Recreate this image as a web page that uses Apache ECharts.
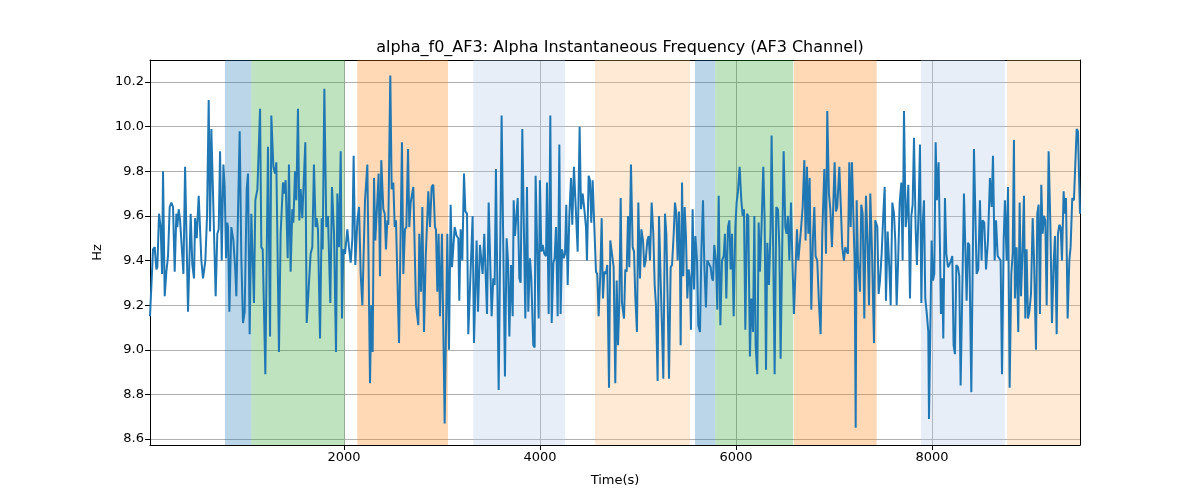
<!DOCTYPE html>
<html>
<head>
<meta charset="utf-8">
<script src="https://cdn.jsdelivr.net/npm/echarts@6/dist/echarts.min.js"></script>
<style>html,body{margin:0;padding:0;background:#fff}#c{width:1200px;height:500px}</style>
</head>
<body>
<div id="c"></div>
<script>
const times = [20,51,68,85,95,112,129,143,153,170,187,204,221,238,255,272,289,299,313,327,361,378,408,435,452,469,480,497,507,517,531,544,561,585,602,619,633,646,663,690,707,721,735,752,769,782,796,809,816,830,850,871,891,901,935,952,969,986,1007,1020,1037,1054,1081,1095,1116,1143,1156,1170,1197,
1224,1245,1258,1279,1296,1309,1336,1353,1377,1387,1404,1425,1438,1455,1472,1483,1500,1513,1530,1544,1557,1574,1605,1619,1659,1676,1693,1710,1721,1734,1755,1772,1782,1799,1819,1836,1860,1877,1898,1918,1932,1949,1966,1979,1993,2010,2034,2050,2068,2085,2098,2115,2136,2153,2170,2187,2214,2238,2265,2278,2292,2306,2319,2340,2353,2367,2380,
2401,2415,2428,2442,2452,2472,2486,2503,2517,2530,2561,2591,2605,2622,2636,2653,2666,2680,2707,2734,2758,2768,2785,2799,2816,2833,2860,2877,2894,2911,2928,2938,2952,2965,2979,2999,3027,3054,3071,3088,3102,3129,3149,3166,3176,3190,3207,3224,3238,3255,3268,3312,3326,3353,3367,3387,3414,3431,3459,3476,3506,3523,3537,3550,
3578,3608,3642,3659,3673,3687,3704,3721,3731,3744,3772,3789,3802,3819,3850,3867,3880,3897,3911,3931,3945,3955,3986,3999,4013,4027,4044,4061,4071,4088,4105,4119,4136,4149,4163,4180,4197,4210,4224,4241,4255,4268,4282,4299,4316,4329,4346,4360,4384,4404,4418,4435,4452,4469,4479,4496,4510,4523,4537,4554,4571,4584,4598,4615,4629,4642,4656,4673,4686,4704,4717,4734,
4751,4768,4782,4796,4809,4823,4836,4857,4870,4884,4898,4911,4928,4945,4959,4972,4989,5003,5020,5034,5051,5064,5078,5095,5108,5122,5139,5156,5170,5183,5200,5214,5231,5244,5258,5275,5289,5302,5316,5333,5347,5364,5377,5391,5404,5418,5428,5435,5449,5462,5476,5489,5503,5517,5530,5540,5557,5571,5585,5602,5615,5632,5646,5663,5676,5693,5707,5721,5741,5755,5765,5778,5795,5809,5823,5840,5857,5874,5887,5901,5918,
5932,5945,5959,5976,5993,6006,6020,6037,6054,6068,6081,6095,6112,6125,6142,6156,6173,6187,6200,6217,6231,6244,6261,6278,6292,6306,6319,6336,6353,6363,6380,6394,6411,6428,6442,6455,6472,6486,6503,6516,6530,6544,6561,6574,6591,6622,6636,6646,6663,6680,6697,6710,6724,6738,6751,6768,6785,6799,6812,6829,6846,6863,6880,6901,6918,6931,6948,6962,6979,6993,7006,7020,7033,7054,7067,7084,7101,
7115,7129,7142,7156,7170,7183,7197,7210,7221,7231,7244,7265,7278,7292,7309,7326,7343,7357,7370,7387,7408,7421,7442,7455,7469,7486,7503,7517,7530,7547,7564,7578,7595,7612,7625,7639,7653,7670,7687,7700,7714,7731,7744,7758,7775,7789,7802,7816,7833,7846,7863,7877,7891,7904,7918,7931,7945,7962,7969,7982,7996,8010,8023,8037,8050,8067,8081,8091,8105,8115,8132,8146,8163,8176,8193,8207,8220,8234,8248,8265,8278,8292,
8326,8353,8367,8380,8401,8428,8455,8472,8489,8506,8516,8533,8551,8571,8591,8608,8622,8639,8653,8670,8687,8700,8714,8731,8744,8761,8775,8792,8809,8823,8836,8846,8863,8880,8894,8908,8925,8938,8952,8965,8979,8993,9010,9027,9040,9061,9074,9088,9101,9115,9129,9142,9156,9170,9190,9207,9224,9241,9255,9272,9285,9299,9312,9326,9343,9353,9367,9384,9401,9414,9431,9448,9462,9476,9489,9510];

const hz = [9.15,9.45,9.46,9.36,9.37,9.61,9.55,9.34,9.80,9.24,9.35,9.42,9.64,9.66,9.64,9.35,9.61,9.55,9.63,9.58,9.34,9.82,9.17,9.61,9.38,9.32,9.59,9.50,9.60,9.69,9.69,9.40,9.32,9.40,9.60,10.12,9.53,9.99,9.70,9.24,9.52,9.54,9.89,9.40,9.83,9.73,9.41,9.57,9.55,9.17,9.55,9.49,9.35,9.24,9.98,9.41,9.12,9.17,9.72,9.79,9.07,9.61,9.21,9.67,9.72,10.08,9.46,9.45,8.89,
9.91,9.06,10.05,9.82,9.79,9.84,8.99,9.52,9.75,9.70,9.76,9.41,9.83,9.35,9.63,9.57,9.80,9.67,10.08,9.58,9.72,9.59,9.93,9.12,9.43,9.46,9.83,9.55,9.59,9.54,9.05,9.59,9.45,10.17,9.55,9.60,9.21,9.73,9.52,8.99,9.70,9.46,9.89,9.14,9.45,9.43,9.54,9.46,9.39,9.50,9.87,9.38,9.58,9.64,9.34,9.20,9.67,9.83,8.85,9.20,8.99,9.77,9.49,9.67,9.79,9.33,9.85,
9.63,9.61,9.45,9.58,9.56,10.23,9.72,9.75,9.55,9.58,9.03,9.93,9.34,9.54,9.55,9.90,9.55,9.66,9.73,9.20,9.11,9.52,9.26,9.64,9.08,9.41,9.71,9.55,9.73,9.74,9.55,9.54,9.26,9.52,9.15,9.52,8.67,9.52,9.00,9.65,9.37,9.55,9.51,9.50,9.22,9.54,9.40,9.79,9.62,9.61,9.07,9.60,9.03,9.49,9.17,9.47,9.34,9.52,9.16,9.66,9.15,9.32,9.29,9.81,
8.82,10.05,8.88,9.50,9.40,9.06,9.38,9.15,9.67,9.51,9.68,9.32,9.30,9.99,9.14,9.73,9.17,9.41,9.32,9.02,9.01,9.78,9.14,9.76,9.44,9.47,9.43,9.42,9.75,9.16,10.05,9.12,9.39,9.41,9.55,9.15,9.92,9.16,9.45,9.41,9.43,9.65,9.29,9.60,9.77,9.56,9.82,9.68,9.44,10.00,9.63,9.70,9.63,9.55,9.40,9.78,9.76,9.57,9.76,9.55,9.35,9.34,9.15,9.34,9.59,9.23,9.35,9.34,9.38,8.83,9.49,9.49,
9.37,8.85,9.31,9.02,9.21,9.68,9.21,9.14,9.36,9.35,9.60,9.37,9.83,9.46,9.44,9.24,9.08,9.66,9.32,9.54,9.49,9.37,9.40,9.49,9.51,9.40,9.66,9.52,9.29,9.20,8.86,9.60,9.31,9.11,8.87,9.61,9.52,9.23,8.87,9.37,9.38,9.52,9.66,9.61,9.40,9.62,9.40,9.02,9.75,9.33,9.64,9.51,9.23,9.36,9.31,9.09,9.63,9.27,9.51,9.40,9.11,9.08,9.43,9.67,9.39,9.19,9.40,9.40,9.37,9.32,9.31,9.47,9.40,9.18,9.69,9.11,9.40,9.42,9.52,9.23,9.55,
9.58,9.36,9.52,9.15,9.55,9.66,9.71,9.82,9.67,9.60,9.63,9.09,9.61,9.60,8.97,9.23,9.08,9.60,9.02,8.89,9.57,9.35,9.56,9.82,9.58,8.91,9.48,9.29,9.55,9.96,9.42,8.89,9.64,9.63,9.46,8.96,9.48,9.89,9.55,9.52,9.60,9.40,9.66,9.42,9.16,9.54,9.40,9.40,9.54,9.64,9.85,9.49,9.82,9.52,9.77,9.18,9.50,9.64,9.42,9.40,9.21,9.07,9.52,9.81,9.43,10.07,9.70,9.63,9.46,9.46,9.84,9.62,9.64,9.82,9.67,9.46,9.40,
9.46,9.44,9.43,9.84,9.55,9.84,9.61,9.40,8.65,9.67,9.40,9.26,9.65,9.61,9.14,9.69,9.47,9.20,9.70,9.45,9.03,9.58,9.55,9.25,9.31,9.43,9.61,9.73,9.22,9.53,9.37,9.20,9.66,9.61,9.49,9.20,9.38,9.66,9.75,9.40,10.07,9.55,9.61,9.74,9.23,9.60,9.65,9.95,9.54,9.38,9.63,9.92,9.21,9.56,9.67,9.23,9.17,9.08,8.69,9.07,9.49,9.31,9.34,9.93,9.67,9.84,9.46,9.16,9.32,9.05,9.68,9.43,9.37,9.38,9.40,9.42,9.02,8.98,9.38,9.37,9.33,8.84,
9.70,9.22,9.48,9.47,8.81,9.90,9.34,9.36,9.67,9.40,9.58,9.57,9.36,9.49,9.77,9.64,9.87,9.40,9.58,9.42,9.42,9.40,8.89,9.49,9.67,9.40,9.73,8.83,9.34,9.43,9.94,9.23,9.46,9.08,9.66,9.24,9.46,9.69,9.14,9.45,9.14,9.17,9.25,9.59,9.42,9.00,9.61,9.65,9.16,9.74,9.52,9.60,9.58,9.20,9.89,9.57,9.12,9.39,9.51,9.07,9.52,9.56,9.55,9.40,9.71,9.61,9.68,9.14,9.40,9.46,9.68,9.67,9.67,9.99,9.98,9.61];

const bandStart = [785, 1054, 2135, 3319, 4561, 5581, 5788, 6591, 7887, 8765];
const bandEnd   = [1054, 2007, 3061, 4255, 5530, 5788, 6584, 7435, 8744, 9510];
const bandKind  = ['b','g','o','lb','lo','b','g','o','lb','lo'];
const xTicks = [2000, 4000, 6000, 8000];
const yTicks = [8.6, 8.8, 9.0, 9.2, 9.4, 9.6, 9.8, 10.0, 10.2];

const kindColor = {
  b: 'rgba(31,119,180,0.3)',
  g: 'rgba(44,160,44,0.3)',
  o: 'rgba(255,127,14,0.3)',
  lb: 'rgba(174,199,232,0.3)',
  lo: 'rgba(255,187,120,0.3)'
};

const xMin = 20, xMax = 9510, yMin = 8.573, yMax = 10.299;
const font = 'DejaVu Sans';

const chart = echarts.init(document.getElementById('c'), null, {renderer: 'canvas'});
const lineData = times.map((t, i) => [t, hz[i]]);
const areas = bandStart.map((s, i) => [
  {xAxis: s, itemStyle: {color: kindColor[bandKind[i]]}},
  {xAxis: bandEnd[i]}
]);

chart.setOption({
  animation: false,
  backgroundColor: '#fff',
  title: {
    text: 'alpha_f0_AF3: Alpha Instantaneous Frequency (AF3 Channel)',
    left: 615, top: 35, textAlign: 'center',
    textStyle: {fontFamily: font, fontSize: 16, fontWeight: 'normal', color: '#000'}
  },
  grid: {left: 150, right: 120, top: 60, bottom: 55, containLabel: false},
  xAxis: [{
    type: 'value', min: xMin, max: xMax,
    name: 'Time(s)', nameLocation: 'middle', nameGap: 29,
    nameTextStyle: {fontFamily: font, fontSize: 13, color: '#000'},
    axisLine: {show: true, onZero: false, lineStyle: {color: '#000', width: 1}},
    axisTick: {show: true, length: 5, inside: false, customValues: xTicks, lineStyle: {color: '#000'}},
    axisLabel: {customValues: xTicks, fontFamily: font, fontSize: 13, color: '#000', margin: 6,
      formatter: v => String(Math.round(v))},
    splitLine: {show: true, lineStyle: {color: '#b0b0b0', width: 1}}
  }, {
    type: 'value', min: xMin, max: xMax, position: 'top',
    axisLine: {show: true, onZero: false, lineStyle: {color: '#000', width: 1}},
    axisTick: {show: false}, axisLabel: {show: false}, splitLine: {show: false}
  }],
  yAxis: [{
    type: 'value', min: yMin, max: yMax,
    name: 'Hz', nameLocation: 'middle', nameGap: 46,
    nameTextStyle: {fontFamily: font, fontSize: 13, color: '#000'},
    axisLine: {show: true, onZero: false, lineStyle: {color: '#000', width: 1}},
    axisTick: {show: true, length: 5, inside: false, customValues: yTicks, lineStyle: {color: '#000'}},
    axisLabel: {customValues: yTicks, fontFamily: font, fontSize: 13, color: '#000', margin: 6,
      formatter: v => v.toFixed(1)},
    splitLine: {show: true, lineStyle: {color: '#b0b0b0', width: 1}}
  }, {
    type: 'value', min: yMin, max: yMax, position: 'right',
    axisLine: {show: true, onZero: false, lineStyle: {color: '#000', width: 1}},
    axisTick: {show: false}, axisLabel: {show: false}, splitLine: {show: false}
  }],
  series: [{
    type: 'line', data: [], z: 1, silent: true,
    markArea: {silent: true, data: areas}
  }, {
    type: 'line', data: lineData, z: 3, showSymbol: false, symbol: 'none',
    lineStyle: {color: '#1f77b4', width: 2}, silent: true
  }]
});
</script>
</body>
</html>
